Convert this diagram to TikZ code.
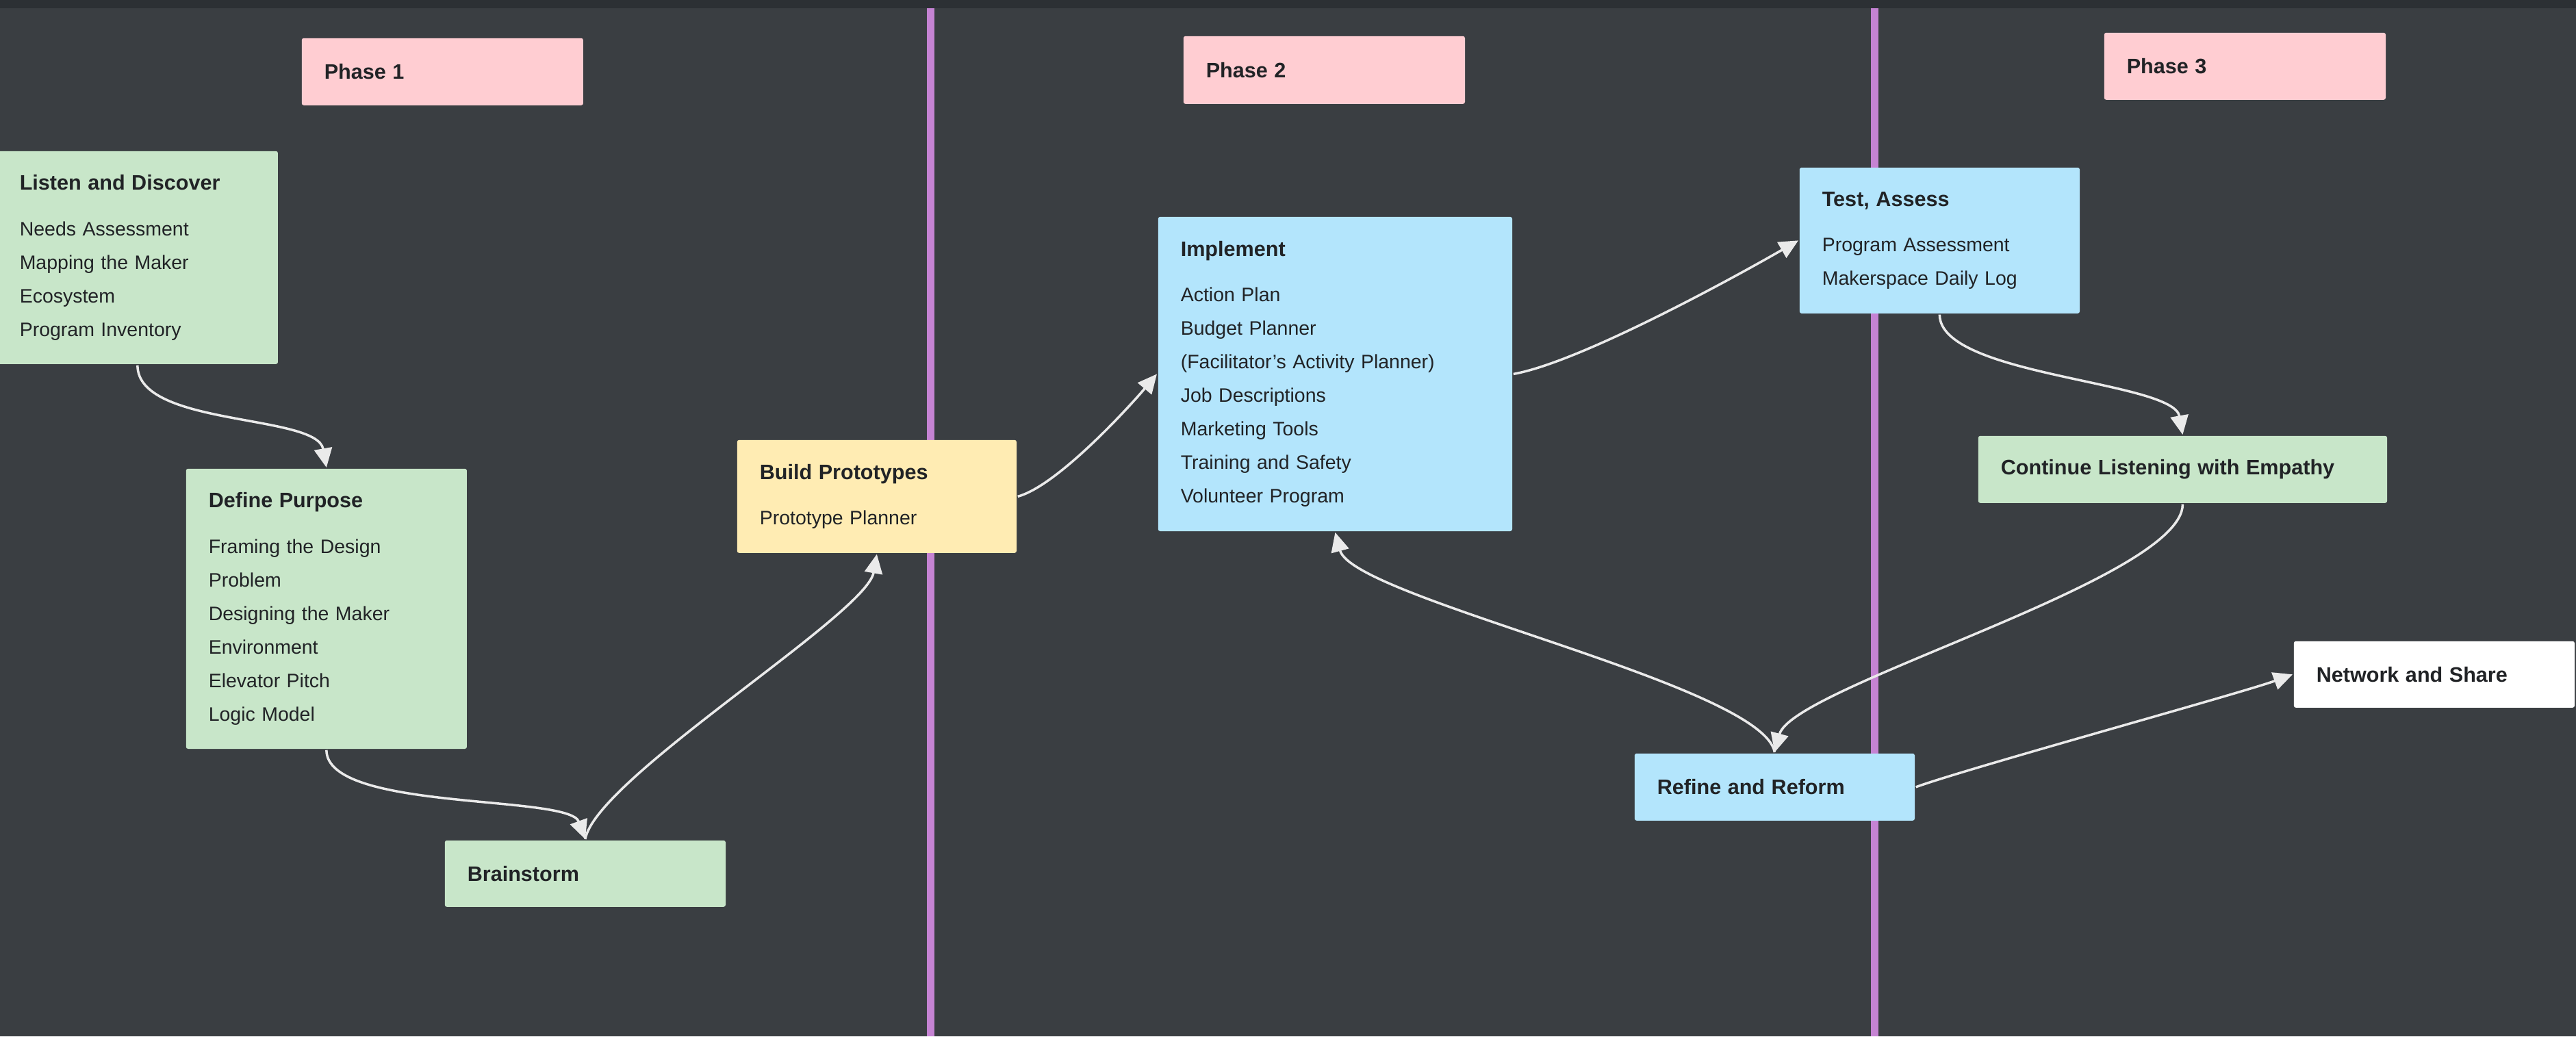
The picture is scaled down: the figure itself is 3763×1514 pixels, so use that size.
\documentclass[tikz,border=0pt]{standalone}
\usepackage{fontspec}
\setmainfont{Liberation Sans}
\usepackage{tikz}
\usetikzlibrary{arrows.meta}

\definecolor{board}{HTML}{3A3E42}
\definecolor{boardtop}{HTML}{2C3034}
\definecolor{chalk}{HTML}{C583D3}
\definecolor{ink}{HTML}{212326}
\definecolor{pinkcard}{HTML}{FFCDD2}
\definecolor{greencard}{HTML}{C8E6C9}
\definecolor{yellowcard}{HTML}{FFECB3}
\definecolor{bluecard}{HTML}{B3E5FC}
\definecolor{flow}{HTML}{EAEAEA}

\newcommand{\cardtitle}[1]{{\fontsize{8.7pt}{13.94pt}\selectfont\bfseries #1}}

\begin{document}
\begin{tikzpicture}[x=0.01cm, y=-0.01cm,
    card/.style={anchor=north west, rounded corners=0.03cm, align=left,
        inner xsep=0.33cm, inner ysep=0pt, text=ink,
        font=\fontsize{8.1pt}{13.94pt}\selectfont},
    every path/.style={line width=0.035cm},
    flowline/.style={draw=flow, -{Triangle[length=0.28cm, width=0.26cm]}}]

    \useasboundingbox (0,0) rectangle (3763,1514);
    \fill[board] (0,0) rectangle (3763,1514);
    \fill[boardtop] (0,0) rectangle (3763,12);

    \draw[chalk, line width=0.11cm] (1359,12) -- (1359,1514);
    \draw[chalk, line width=0.11cm] (2738,12) -- (2738,1514);

    \node[card, fill=pinkcard, text width=3.45cm, minimum height=0.98cm] (phaseone) at (439,54) {\cardtitle{Phase 1}};
    \node[card, fill=pinkcard, text width=3.45cm, minimum height=0.99cm] (phasetwo) at (1727,51) {\cardtitle{Phase 2}};
    \node[card, fill=pinkcard, text width=3.45cm, minimum height=0.98cm] (phasethree) at (3072,46) {\cardtitle{Phase 3}};

    \node[card, fill=greencard, text width=3.44cm, minimum height=3.11cm] (listen) at (-6,219)
        {\cardtitle{Listen and Discover}\\[5pt] Needs Assessment\\ Mapping the Maker\\ Ecosystem\\ Program Inventory};

    \node[card, fill=greencard, text width=3.44cm, minimum height=4.09cm] (define) at (270,683)
        {\cardtitle{Define Purpose}\\[5pt] Framing the Design\\ Problem\\ Designing the Maker\\ Environment\\ Elevator Pitch\\ Logic Model};

    \node[card, fill=greencard, text width=3.44cm, minimum height=0.97cm] (brainstorm) at (648,1226) {\cardtitle{Brainstorm}};

    \node[card, fill=yellowcard, text width=3.42cm, minimum height=1.65cm] (build) at (1075,641)
        {\cardtitle{Build Prototypes}\\[5pt] Prototype Planner};

    \node[card, fill=bluecard, text width=4.51cm, minimum height=4.59cm] (implement) at (1690,315)
        {\cardtitle{Implement}\\[5pt] Action Plan\\ Budget Planner\\ (Facilitator's Activity Planner)\\ Job Descriptions\\ Marketing Tools\\ Training and Safety\\ Volunteer Program};

    \node[card, fill=bluecard, text width=3.43cm, minimum height=2.13cm] (test) at (2627,243)
        {\cardtitle{Test, Assess}\\[5pt] Program Assessment\\ Makerspace Daily Log};

    \node[card, fill=greencard, text width=5.31cm, minimum height=0.98cm] (continue) at (2888,635) {\cardtitle{Continue Listening with Empathy}};

    \node[card, fill=bluecard, text width=3.43cm, minimum height=0.98cm] (refine) at (2386,1099) {\cardtitle{Refine and Reform}};

    \node[card, fill=white, text width=3.44cm, minimum height=0.97cm] (network) at (3349,935) {\cardtitle{Network and Share}};

    % connectors
    \draw[flowline] (listen.south) .. controls +(-90:0.9cm) and +(100:0.8cm) .. (define.north);
    \draw[flowline] (define.south) .. controls +(-90:0.9cm) and +(110:0.7cm) .. (brainstorm.north);
    \draw[flowline] (brainstorm.north) .. controls +(80:0.9cm) and +(-100:0.9cm) .. (build.south);
    \draw[flowline] (build.east) .. controls +(15:0.6cm) and +(-130:0.6cm) .. (implement.west);
    \draw[flowline] (implement.east) .. controls +(10:1cm) and +(-150:1cm) .. (test.west);
    \draw[flowline] (test.south) .. controls +(-90:0.9cm) and +(100:0.8cm) .. (continue.north);
    \draw[flowline] (continue.south) .. controls +(-90:1.1cm) and +(75:1cm) .. (refine.north);
    \draw[flowline] (refine.north) .. controls +(100:1cm) and +(-75:1cm) .. (implement.south);
    \draw[flowline] (refine.east) .. controls +(20:0.8cm) and +(-160:0.8cm) .. (network.west);

\end{tikzpicture}
\end{document}
